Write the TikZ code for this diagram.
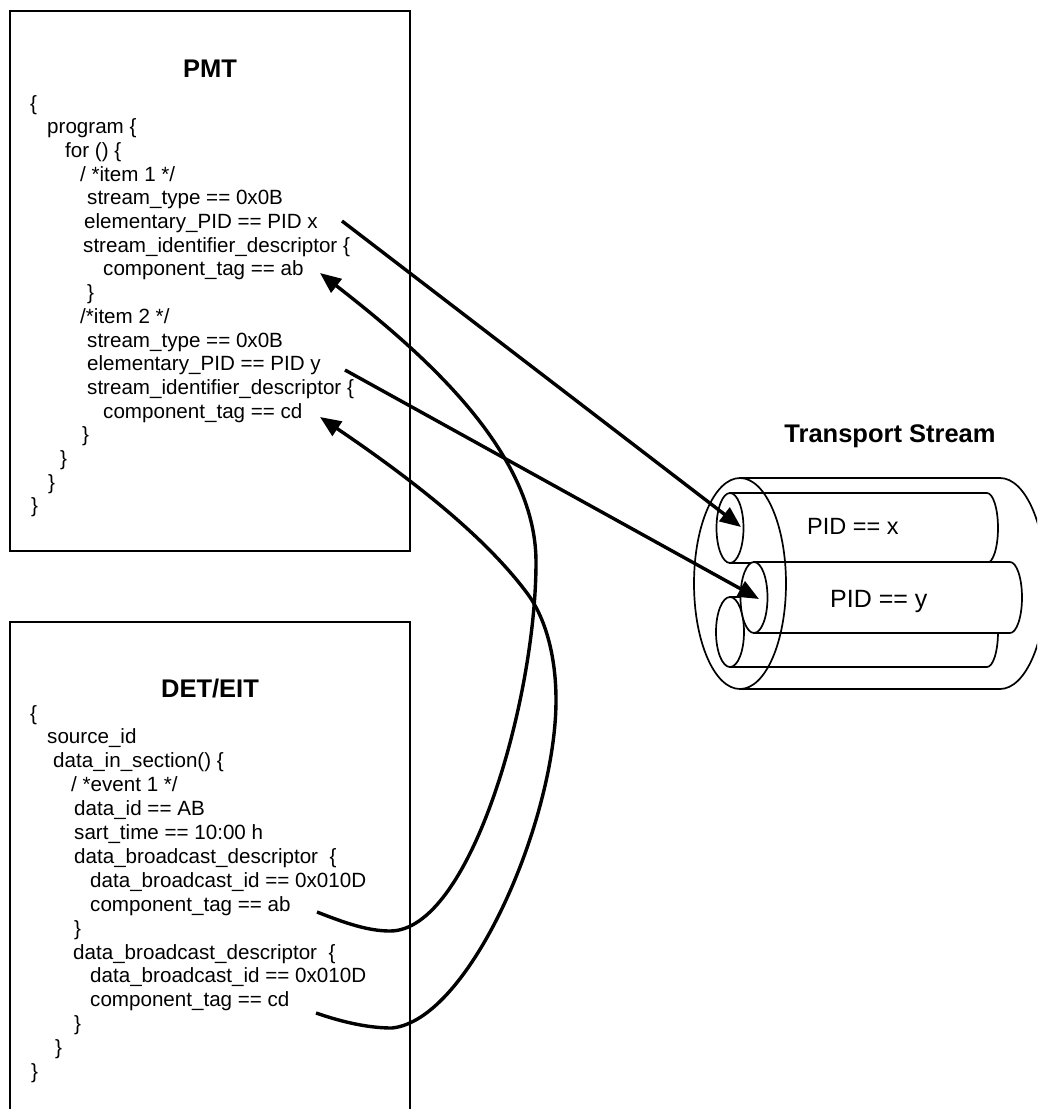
\documentclass[tikz,border=0pt]{standalone}
\usepackage{fontspec}
\setmainfont{Liberation Sans}
\usetikzlibrary{arrows.meta}
\begin{document}
\begin{tikzpicture}[x=1pt,y=-1pt,
  txt/.style={anchor=base west, inner sep=0pt, font=\fontsize{20.6}{24}\selectfont},
  ttl/.style={anchor=base, inner sep=0pt, font=\fontsize{25.5}{30}\selectfont\bfseries},
  pidlbl/.style={anchor=base west, inner sep=0pt, font=\fontsize{23.5}{28}\selectfont},
  box/.style={draw, line width=1.9pt},
  link/.style={line width=3.4pt, -{Triangle[length=21pt,width=17pt]}},
  cyl/.style={line width=1.7pt}]
\clip (0,0) rectangle (1037,1109);
\fill[white] (0,0) rectangle (1037,1109);

% ---------- PMT box ----------
\draw[box] (10,11) rectangle (410,551);
\node[ttl] (pmt) at (210,77) {PMT};
\node[txt] (p0)  at (30,110.0) {\{};
\node[txt] (p1)  at (47,133.7) {program \{};
\node[txt] (p2)  at (65,157.4) {for () \{};
\node[txt] (p3)  at (80,181.1) {/ *item 1 */};
\node[txt] (p4)  at (87,204.8) {stream\_type == 0x0B};
\node[txt] (p5)  at (84,228.5) {elementary\_PID == PID x};
\node[txt] (p6)  at (83,252.2) {stream\_identifier\_descriptor \{};
\node[txt] (p7)  at (103,275.9) {component\_tag == ab};
\node[txt] (p8)  at (87,299.6) {\}};
\node[txt] (p9)  at (80,323.3) {/*item 2 */};
\node[txt] (p10) at (87,347.0) {stream\_type == 0x0B};
\node[txt] (p11) at (87,370.7) {elementary\_PID == PID y};
\node[txt] (p12) at (87,394.4) {stream\_identifier\_descriptor \{};
\node[txt] (p13) at (103,418.1) {component\_tag == cd};
\node[txt] (p14) at (82,441.8) {\}};
\node[txt] (p15) at (60,465.5) {\}};
\node[txt] (p16) at (48,489.2) {\}};
\node[txt] (p17) at (31,512.9) {\}};

% ---------- DET/EIT box ----------
\draw[box] (10,622) rectangle (410,1130);
\node[ttl] (det) at (210,697) {DET/EIT};
\node[txt] (d0)  at (30,720.0) {\{};
\node[txt] (d1)  at (47,743.9) {source\_id};
\node[txt] (d2)  at (53,767.8) {data\_in\_section() \{};
\node[txt] (d3)  at (71,791.7) {/ *event 1 */};
\node[txt] (d4)  at (74,815.6) {data\_id == AB};
\node[txt] (d5)  at (74,839.5) {sart\_time == 10:00 h};
\node[txt] (d6)  at (74,863.4) {data\_broadcast\_descriptor\ \ \{};
\node[txt] (d7)  at (90,887.3) {data\_broadcast\_id == 0x010D};
\node[txt] (d8)  at (90,911.2) {component\_tag == ab};
\node[txt] (d9)  at (74,935.1) {\}};
\node[txt] (d10) at (73,959.0) {data\_broadcast\_descriptor\ \ \{};
\node[txt] (d11) at (90,982.9) {data\_broadcast\_id == 0x010D};
\node[txt] (d12) at (90,1006.8) {component\_tag == cd};
\node[txt] (d13) at (74,1030.7) {\}};
\node[txt] (d14) at (55,1054.6) {\}};
\node[txt] (d15) at (31,1078.5) {\}};

% ---------- Transport stream ----------
\node[ttl] (ts) at (890,442) {Transport Stream};

% outer cylinder (body lines and back arc)
\draw[cyl] (740,478) -- (1000,478)
  .. controls (1025.4,478) and (1046,525.3) .. (1046,583.5)
  .. controls (1046,641.7) and (1025.4,689) .. (1000,689) -- (740,689);

% cylinder 3 (bottom, behind)
\path[cyl, draw, fill=white] (730,597) -- (987,597)
  .. controls (993.1,597) and (998,612.7) .. (998,632)
  .. controls (998,651.3) and (993.1,667) .. (987,667) -- (730,667) -- cycle;
\draw[cyl, fill=white] (730,632) ellipse [x radius=14pt, y radius=35pt];

% cylinder 1 (top)
\path[cyl, draw, fill=white] (730,493) -- (987,493)
  .. controls (993.1,493) and (998,508.7) .. (998,528)
  .. controls (998,547.3) and (993.1,563) .. (987,563) -- (730,563) -- cycle;
\draw[cyl, fill=white] (730,528) ellipse [x radius=13.5pt, y radius=35pt];
\node[pidlbl] (pidx) at (807,534) {PID == x};

% cylinder 2 (middle, front)
\path[cyl, draw, fill=white] (754,562) -- (1010,562)
  .. controls (1016.6,562) and (1022,577.9) .. (1022,597.5)
  .. controls (1022,617.1) and (1016.6,633) .. (1010,633) -- (754,633) -- cycle;
\draw[cyl, fill=white] (754,597.5) ellipse [x radius=13.5pt, y radius=35.5pt];
\node[pidlbl, font=\fontsize{25}{30}\selectfont] (pidy) at (830,607) {PID == y};

% outer front ellipse (drawn over)
\draw[cyl] (740,583.5) ellipse [x radius=46pt, y radius=105.5pt];

% ---------- connectors ----------
\coordinate (xs) at (342,221);
\coordinate (xt) at (741,527);
\coordinate (ys) at (345,370);
\coordinate (yt) at (759,599);
\coordinate (abs) at (317,912);
\coordinate (abt) at (320,273);
\coordinate (cds) at (316,1013);
\coordinate (cdt) at (320,417);

\draw[link] (xs) -- (xt);
\draw[link] (ys) -- (yt);
\draw[link] (abs) .. controls (345,923) and (368,931) .. (390,931)
  .. controls (470,931) and (536,700) .. (536,562)
  .. controls (536,450) and (420,351) .. (abt);
\draw[link] (cds) .. controls (345,1023) and (370,1028) .. (392,1028)
  .. controls (470,1020) and (556,820) .. (556,700)
  .. controls (556,655) and (545,617) .. (527,593)
  .. controls (500,557) and (450,505) .. (cdt);
\end{tikzpicture}
\end{document}
